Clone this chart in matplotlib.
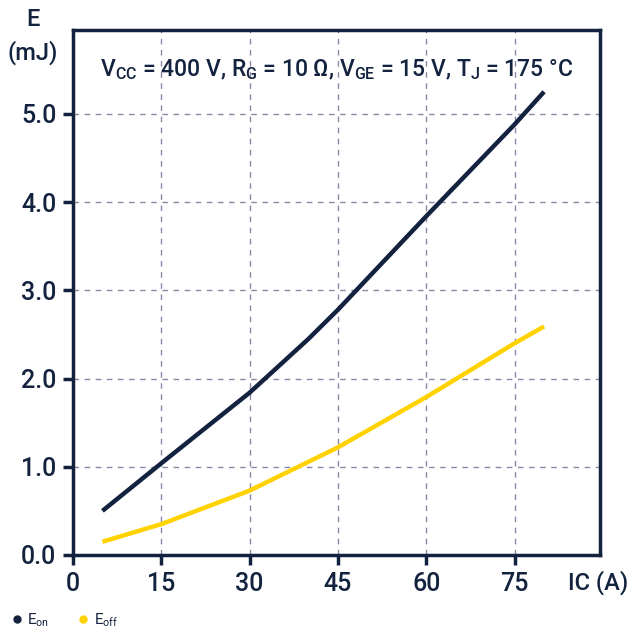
import matplotlib
matplotlib.use("Agg")
import matplotlib.pyplot as plt
from matplotlib.lines import Line2D

plt.rcParams["font.family"] = ["Roboto", "DejaVu Sans"]

navy = "#13223f"
yellow = "#ffd200"
gridc = "#8c87a6"

ic = [5, 15, 30, 40, 45, 60, 75, 80]
e_on = [0.50, 1.04, 1.84, 2.45, 2.78, 3.84, 4.88, 5.25]
ic_off = [5, 15, 30, 45, 60, 75, 80]
e_off = [0.15, 0.35, 0.73, 1.22, 1.79, 2.40, 2.59]

xticks = [0, 15, 30, 45, 60, 75]
yticks = [0.0, 1.0, 2.0, 3.0, 4.0, 5.0]

fig = plt.figure(figsize=(6.3, 6.31), dpi=100)
ax = fig.add_axes([73 / 630, 1 - 555 / 631, 527 / 630, 525 / 631])

ax.plot(ic, e_on, color=navy, lw=3.2, solid_capstyle="butt")
ax.plot(ic_off, e_off, color=yellow, lw=3.2, solid_capstyle="butt")

ax.set_xlim(0, 89.5)
ax.set_ylim(0, 5.95)
ax.set_xticks(xticks)
ax.set_yticks(yticks)
ax.set_yticklabels([f"{v:.1f}" for v in yticks])
ax.grid(True, color=gridc, ls=(0, (4, 4)), lw=1)
for s in ax.spines.values():
    s.set_color(navy)
    s.set_linewidth(2.5)
ax.tick_params(colors=navy, width=2.5, length=7, labelsize=18, pad=5)
for lab in ax.get_xticklabels() + ax.get_yticklabels():
    lab.set_fontweight("medium")

ax.text(0.5, 0.925,
        r"V$_\mathregular{CC}$ = 400 V, R$_\mathregular{G}$ = 10 Ω, V$_\mathregular{GE}$ = 15 V, T$_\mathregular{J}$ = 175 °C",
        transform=ax.transAxes, fontsize=16.5, color=navy, fontweight="medium",
        ha="center", va="center")

fig.text(33 / 630, 1 - 20 / 631, "E", fontsize=17, color=navy, fontweight="medium", ha="center", va="center")
fig.text(33 / 630, 1 - 53 / 631, "(mJ)", fontsize=17, color=navy, fontweight="medium", ha="center", va="center")
fig.text(628 / 630, 1 - 583 / 631, "IC (A)", fontsize=17, color=navy, fontweight="medium", ha="right", va="center")

handles = [Line2D([], [], ls="", marker="o", color=navy, markersize=5),
           Line2D([], [], ls="", marker="o", color=yellow, markersize=5)]
fig.legend(handles, [r"E$_\mathregular{on}$", r"E$_\mathregular{off}$"], loc="lower left",
           bbox_to_anchor=(-0.005, -0.018), ncol=2, frameon=False, fontsize=11,
           handlelength=0.8, handletextpad=0.3, columnspacing=1.8, labelcolor=navy)

fig.savefig("out.png", dpi=100)
